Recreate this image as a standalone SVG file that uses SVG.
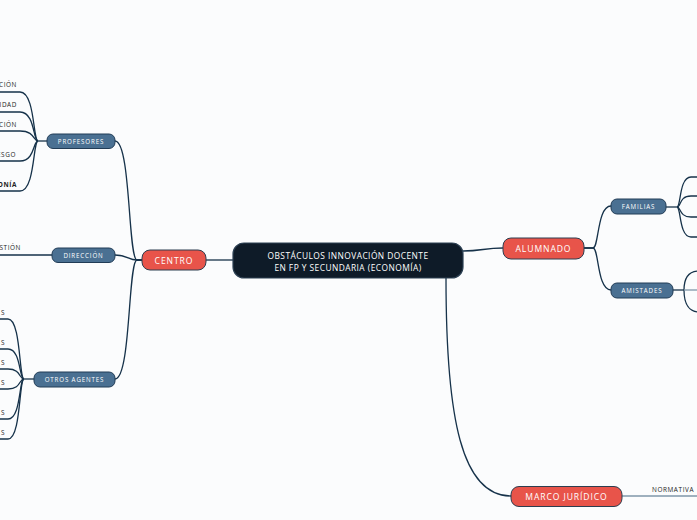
<svg xmlns="http://www.w3.org/2000/svg" width="697" height="520" viewBox="0 0 697 520">
<style>
.bg{fill:#fbfcfd}
.c{fill:none;stroke:#16324a;stroke-width:1.3}
.cl{fill:none;stroke:#7f97a9;stroke-width:1.3}
.main{fill:#0e1b28;stroke:#2c4053;stroke-width:1.2}
.red{fill:#e8544a;stroke:#2c3e50;stroke-width:1}
.blue{fill:#4a7092;stroke:#213c56;stroke-width:1}
.t{font-family:"Open Sans","DejaVu Sans",sans-serif;fill:#fff;text-anchor:middle}
.tm{font-size:8.4px;letter-spacing:0.45px}
.tr{font-size:8.6px;letter-spacing:0.9px}
.tb{font-size:6.2px;letter-spacing:0.85px}
.lb{font-family:"Open Sans","DejaVu Sans",sans-serif;font-size:6.4px;fill:#222;letter-spacing:0.6px}
</style>
<rect class="bg" x="0" y="0" width="697" height="520"/>
<g id="connectors">
<path class="c" d="M233,260 L206,260"/>
<path class="c" d="M463,251 C482,251 484,248 503,248"/>
<path class="c" d="M446,278 C446,420 462,496 511,496"/>
<path class="c" d="M142,260 L137,260 C128,260 131,141 115,141"/>
<path class="c" d="M142,260 L137,260 C128,260 128,255 115,255"/>
<path class="c" d="M142,260 L137,260 C128,260 131,379 115,379"/>
<path class="c" d="M47,141 L38,141"/>
<path class="c" d="M38,141 C33,141 35,92 20,92 L0,92"/>
<path class="c" d="M38,141 C33,141 35,112 20,112 L0,112"/>
<path class="c" d="M38,141 C33,141 35,131 20,131 L0,131"/>
<path class="c" d="M38,141 C33,141 35,161 20,161 L0,161"/>
<path class="c" d="M38,141 C33,141 35,191 20,191 L0,191"/>
<path class="c" d="M52,255 L0,255"/>
<path class="c" d="M34,379 L24,379"/>
<path class="c" d="M24,379 C19,379 21,319 8,319 L0,319"/>
<path class="c" d="M24,379 C19,379 21,349 8,349 L0,349"/>
<path class="c" d="M24,379 C19,379 21,369 8,369 L0,369"/>
<path class="c" d="M24,379 C19,379 21,389 8,389 L0,389"/>
<path class="c" d="M24,379 C19,379 21,419 8,419 L0,419"/>
<path class="c" d="M24,379 C19,379 21,439 8,439 L0,439"/>
<path class="c" d="M584,248 L593,248 C599,248 597,206 611,206"/>
<path class="c" d="M584,248 L593,248 C599,248 597,290 611,290"/>
<path class="c" d="M666,207 L677,207"/>
<path class="c" d="M677,207 C681,207 679,177 691,177 L697,177"/>
<path class="c" d="M677,207 C681,207 679,196 691,196 L697,196"/>
<path class="c" d="M677,207 C681,207 679,217 691,217 L697,217"/>
<path class="c" d="M677,207 C681,207 679,237 691,237 L697,237"/>
<path class="c" d="M673,290 L684,290"/>
<path class="c" d="M684,290 C684,276 690,271 699,271"/>
<path class="c" d="M684,290 C684,305 690,312 699,312"/>
<path class="cl" d="M684,290 L697,290"/>
<path class="cl" d="M622,496 L697,496"/>
</g>
<g id="central">
<rect class="main" x="233" y="243" width="230" height="35" rx="11"/>
<text class="t tm" x="348" y="259">OBSTÁCULOS INNOVACIÓN DOCENTE</text>
<text class="t tm" x="348" y="271">EN FP Y SECUNDARIA (ECONOMÍA)</text>
</g>
<g id="centro">
<rect class="red" x="142" y="250" width="64" height="20" rx="8"/>
<text class="t tr" x="174" y="263.5">CENTRO</text>
</g>
<g id="alumnado">
<rect class="red" x="503" y="238" width="81" height="21" rx="8"/>
<text class="t tr" x="543.5" y="251.5">ALUMNADO</text>
</g>
<g id="marco">
<rect class="red" x="511" y="486.5" width="111" height="20" rx="8"/>
<text class="t tr" x="566.5" y="499.5">MARCO JURÍDICO</text>
</g>
<g id="profesores">
<rect class="blue" x="47" y="134" width="68" height="14.5" rx="6"/>
<text class="t tb" x="81" y="143.5">PROFESORES</text>
</g>
<g id="direccion">
<rect class="blue" x="52" y="248" width="63" height="14.5" rx="6"/>
<text class="t tb" x="83.5" y="257.5">DIRECCIÓN</text>
</g>
<g id="otros">
<rect class="blue" x="34" y="372" width="81" height="15" rx="6"/>
<text class="t tb" x="74.5" y="381.7">OTROS AGENTES</text>
</g>
<g id="familias">
<rect class="blue" x="611" y="199" width="55" height="15" rx="6"/>
<text class="t tb" x="638.5" y="208.7">FAMILIAS</text>
</g>
<g id="amistades">
<rect class="blue" x="611" y="283" width="62" height="15" rx="6"/>
<text class="t tb" x="642" y="292.7">AMISTADES</text>
</g>
<g id="labels">
<text class="lb" x="17" y="87" text-anchor="end">CIÓN</text>
<text class="lb" x="17" y="107" text-anchor="end">IDAD</text>
<text class="lb" x="17" y="126.5" text-anchor="end">CIÓN</text>
<text class="lb" x="16" y="156.5" text-anchor="end">ESGO</text>
<text class="lb" x="17" y="186.5" text-anchor="end" font-weight="bold">ONÍA</text>
<text class="lb" x="21" y="250" text-anchor="end">STIÓN</text>
<text class="lb" x="5" y="314.5" text-anchor="end">S</text>
<text class="lb" x="5" y="344.5" text-anchor="end">S</text>
<text class="lb" x="5" y="364.5" text-anchor="end">S</text>
<text class="lb" x="5" y="384.5" text-anchor="end">S</text>
<text class="lb" x="5" y="414.5" text-anchor="end">S</text>
<text class="lb" x="5" y="434.5" text-anchor="end">S</text>
<text class="lb" x="652" y="492">NORMATIVA</text>
</g>
</svg>
